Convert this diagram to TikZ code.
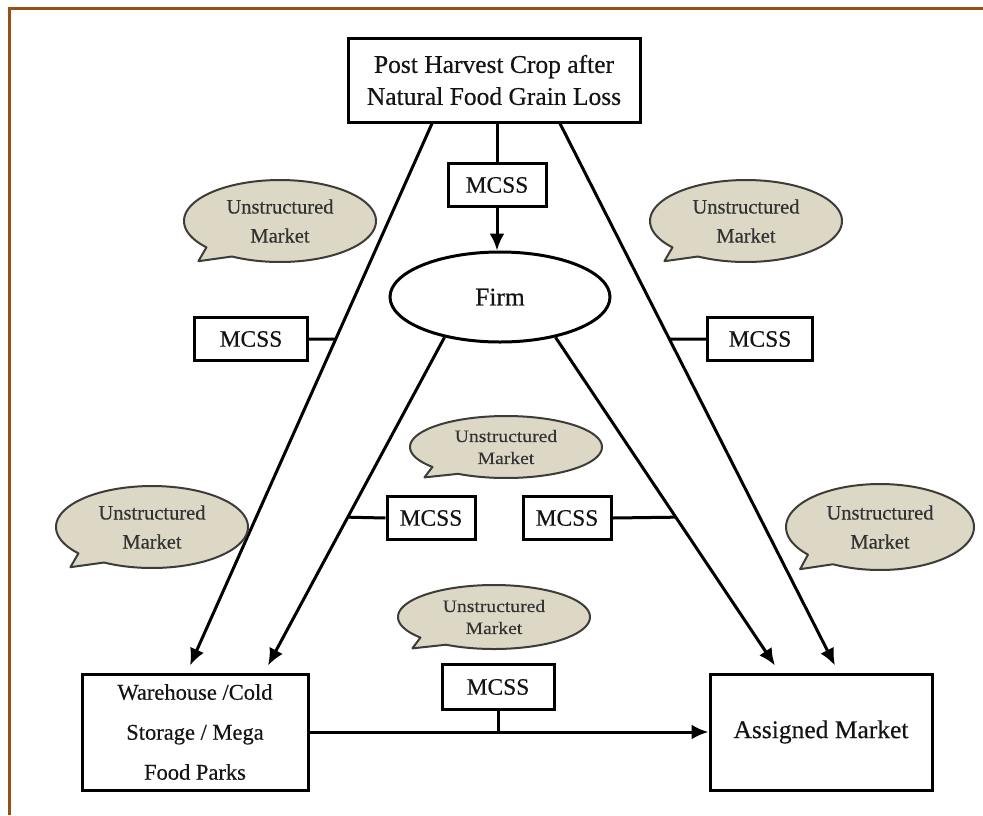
\documentclass[tikz,border=0pt]{standalone}
\usepackage{fontspec}
\setmainfont{Liberation Serif}
\newfontfamily\labelserif[FakeBold=0.4]{Liberation Serif}
\newfontfamily\widerserif[FakeStretch=1.12,FakeBold=0.3]{Liberation Serif}
\usetikzlibrary{arrows.meta,shapes.geometric,calc}

\definecolor{framebrown}{RGB}{150,80,22}
\definecolor{bubblefill}{RGB}{221,216,197}
\definecolor{bubbleline}{RGB}{60,60,56}
\definecolor{inktext}{RGB}{20,20,20}

% speech bubble: name, cx, cy, rx, ry, text style
\newcommand\mktbubble[6]{%
  \draw[bubble] plot[domain=140:480,samples=120] ({#2+#4*cos(\x)},{#3+#5*sin(\x)})
    -- ({#2-0.85*#4},{#3+0.98*#5}) -- cycle;
  \node[#6] (#1) at (#2,#3) {Unstructured\\Market};
}

\tikzset{
  box/.style={draw=black, line width=3pt, fill=white, inner sep=0pt, align=center,
    text=inktext, font=\labelserif\fontsize{24}{30}\selectfont},
  mcss/.style={box, minimum height=43pt, font=\labelserif\fontsize{23.5}{28}\selectfont},
  conn/.style={line width=3pt, draw=black},
  arr/.style={conn, -{Latex[length=17pt,width=15pt]}},
  bubble/.style={draw=bubbleline, line width=2pt, fill=bubblefill, line join=round},
  btext/.style={align=center, text=black!80, font=\labelserif\fontsize{20.5}{29}\selectfont},
  sbtext/.style={align=center, text=black!80, font=\widerserif\fontsize{17.5}{22}\selectfont},
}

\begin{document}
\begin{tikzpicture}[x=1pt,y=-1pt]
\useasboundingbox (0,0) rectangle (983,815);

% frame along top and left
\draw[framebrown, line width=3pt] (9,815) -- (9,8) -- (983,8);

% boxes
\node[box, minimum width=292pt, minimum height=84pt, font=\labelserif\fontsize{25.5}{32}\selectfont]
  (top) at (494,80) {Post Harvest Crop after\\Natural Food Grain Loss};
\node[mcss, minimum width=98pt] (m1) at (497,185) {MCSS};
\node[ellipse, draw=black, line width=3pt, fill=white, minimum width=220pt,
  minimum height=90pt, inner sep=0pt, text=inktext, font=\labelserif\fontsize{25.5}{30}\selectfont]
  (firm) at (500,297) {Firm};
\node[mcss, minimum width=113pt] (mL) at (251,339) {MCSS};
\node[mcss, minimum width=105pt] (mR) at (760,339) {MCSS};
\node[mcss, minimum width=88pt] (mML) at (431,518) {MCSS};
\node[mcss, minimum width=88pt] (mMR) at (567,518) {MCSS};
\node[mcss, minimum width=112pt, minimum height=45pt] (mB) at (498,687) {MCSS};
\node[box, minimum width=226pt, minimum height=116pt, font=\labelserif\fontsize{22.5}{40}\selectfont]
  (wh) at (195,732) {Warehouse /Cold\\Storage / Mega\\Food Parks};
\node[box, minimum width=222pt, minimum height=116pt, font=\labelserif\fontsize{25.5}{30}\selectfont]
  (am) at (821,732) {Assigned Market};

% connector end points
\coordinate (lt) at ([xshift=-62pt]top.south);
\coordinate (lb) at ([xshift=-5pt,yshift=7pt]wh.north);
\coordinate (rt) at ([xshift=66pt]top.south);
\coordinate (rb) at ([xshift=14pt,yshift=7pt]am.north);
\coordinate (fl) at (firm.216);
\coordinate (fr) at (firm.-36);
\coordinate (flb) at ([xshift=73pt,yshift=7pt]wh.north);
\coordinate (frb) at ([xshift=-46pt,yshift=7pt]am.north);

% flows
\draw[conn] (top.south -| m1.north) -- (m1.north);
\draw[arr] (m1.south) -- (m1.south |- firm.north);
\draw[arr] (lt) -- (lb);
\draw[arr] (rt) -- (rb);
\draw[arr] (fl) -- (flb);
\draw[arr] (fr) -- (frb);
\draw[arr] (wh.east) -- (am.west);

% MCSS links
\draw[conn] (mL.east) -- ($(lt)!0.398!(lb)$);
\draw[conn] (mR.west) -- ($(rt)!0.398!(rb)$);
\draw[conn] (mML.west) -- ($(fl)!0.548!(flb)$);
\draw[conn] (mMR.east) -- ($(fr)!0.548!(frb)$);
\draw[conn] (mB.south) -- (mB.south |- wh.east);

% unstructured market bubbles
\mktbubble{u1}{280}{221}{96}{41}{btext}
\mktbubble{u2}{746}{221}{96}{41}{btext}
\mktbubble{u3}{506}{447}{96}{31}{sbtext}
\mktbubble{u4}{152}{527}{96}{41}{btext}
\mktbubble{u5}{880}{527}{94}{43}{btext}
\mktbubble{u6}{494}{617}{96}{32}{sbtext}
\end{tikzpicture}
\end{document}
